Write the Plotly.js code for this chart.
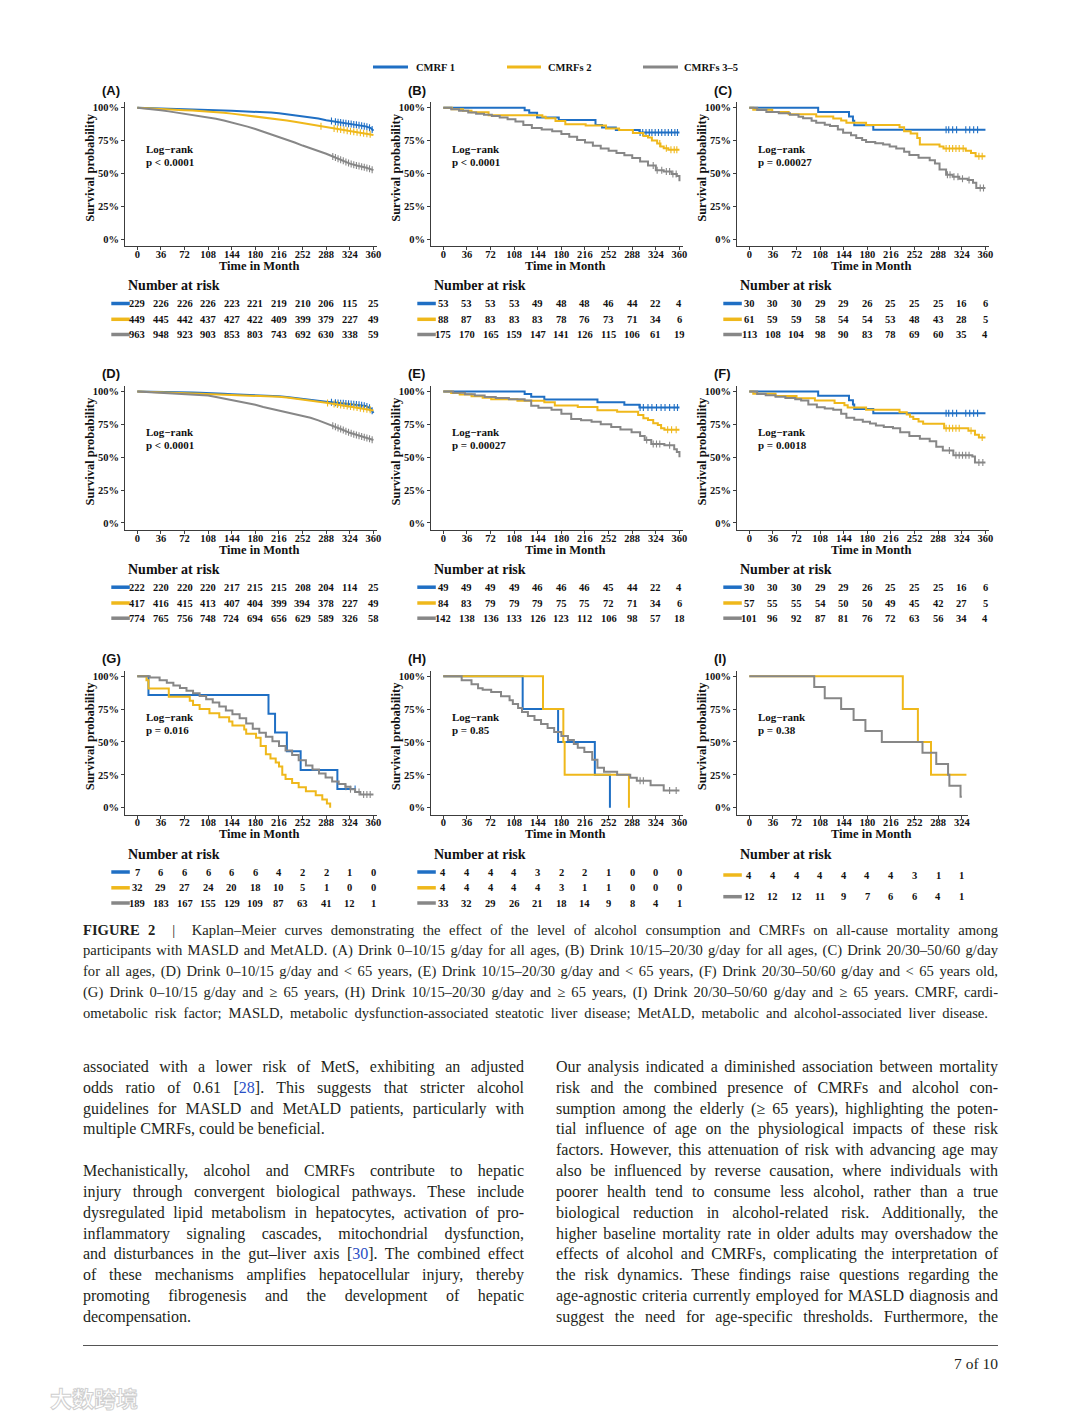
<!DOCTYPE html>
<html><head><meta charset="utf-8">
<script src="https://cdn.plot.ly/plotly-3.0.1.min.js"></script>
<style>
html,body{margin:0;padding:0;background:#fff;width:1080px;height:1419px;overflow:hidden;position:relative}
#chart{position:absolute;left:0;top:0;width:1080px;height:915px}
.txt{position:absolute;font-family:"Liberation Serif","Times New Roman",serif;color:#231f20}
.ln{white-space:nowrap;display:block}
.ln span.in{white-space:nowrap}
.ref{color:#2a4fc6}
</style></head><body>
<div id="chart"></div>
<div id="caption" class="txt" style="left:83px;top:919.5px;font-size:14.6px;line-height:20.8px"></div>
<div id="colL" class="txt" style="left:83px;top:1057px;font-size:16px;line-height:20.83px"></div>
<div id="colR" class="txt" style="left:556px;top:1057px;font-size:16px;line-height:20.83px"></div>
<div style="position:absolute;left:83px;top:1345px;width:915px;height:0;border-top:1.5px solid #555"></div>
<div class="txt" style="left:900px;width:98px;text-align:right;top:1354px;font-size:15.5px;line-height:20px">7 of 10</div>
<div style="position:absolute;left:50px;top:1382px;font-family:'Noto Sans CJK SC';font-size:22px;font-weight:bold;color:#fff;-webkit-text-stroke:1px #cfcfcf;line-height:30px">大数跨境</div>
<script>
// ---------------- DATA ----------------
const groups = ['CMRF 1','CMRFs 2','CMRFs 3–5'];
const months = [0,36,72,108,144,180,216,252,288,324,360];
const monthsI = [0,36,72,108,144,180,216,252,288,324];
const panelIds = ['A','B','C','D','E','F','G','H','I'];
const pValues = ['p < 0.0001','p < 0.0001','p = 0.00027','p < 0.0001','p = 0.00027','p = 0.0018','p = 0.016','p = 0.85','p = 0.38'];

const t12 = [0,12,24,36,48,60,72,84,96,108,120,132,144,156,168,180,192,204,216,228,240,252,264,276,288,300,312,324,336,348,360];
// Panel A
const A1_t = [0,12,24,36,48,60,72,84,96,108,120,132,144,156,168,180,192,204,216,228,240,252,264,276,288,300,312,324,336,348,356,360];
const A1_s = [1,0.997,0.995,0.993,0.991,0.99,0.989,0.988,0.987,0.986,0.983,0.979,0.976,0.974,0.972,0.97,0.967,0.963,0.957,0.95,0.943,0.936,0.928,0.917,0.905,0.895,0.885,0.877,0.868,0.858,0.845,0.825];
const A1_c = [296,302,306,310,314,318,322,326,330,334,338,342,346,350,354,358];
const A2_t = t12;
const A2_s = [1,0.996,0.993,0.99,0.987,0.984,0.981,0.978,0.975,0.972,0.968,0.962,0.955,0.948,0.941,0.935,0.929,0.922,0.913,0.903,0.893,0.883,0.872,0.862,0.852,0.842,0.832,0.822,0.812,0.803,0.793];
const A2_c = [280,300,305,310,315,320,325,330,335,340,345,350,355];
const A3_t = t12;
const A3_s = [1,0.995,0.988,0.98,0.972,0.963,0.955,0.947,0.938,0.928,0.916,0.902,0.888,0.873,0.856,0.838,0.818,0.797,0.775,0.757,0.735,0.712,0.692,0.671,0.65,0.625,0.6,0.575,0.558,0.545,0.525];
const A3_c = [298,302,306,310,314,318,322,326,330,334,338,342,346,350,354,358];
// Panel B
const B1_t = [0,124,131,143,176,232,242,263,299,360];
const B1_s = [1,0.981,0.962,0.925,0.906,0.868,0.849,0.83,0.811,0.811];
const B1_c = [300,304,309,314,318,323,328,333,338,343,348,353,357];
const B2_t = [0,13,30,43,69,151,156,171,186,217,248,268,289,305,312,318,326,331,336,343,360];
const B2_s = [1,0.989,0.977,0.966,0.943,0.932,0.92,0.898,0.875,0.864,0.841,0.83,0.807,0.784,0.773,0.75,0.727,0.704,0.692,0.68,0.68];
const B2_c = [330,340,347,352,356];
const B3_t = [0,12,24,38,50,62,74,86,98,110,122,135,150,166,180,192,204,216,228,240,252,264,276,288,300,312,324,336,348,356,360];
const B3_s = [1,0.989,0.977,0.963,0.954,0.946,0.937,0.926,0.912,0.895,0.868,0.846,0.834,0.82,0.8,0.78,0.755,0.735,0.71,0.69,0.672,0.655,0.638,0.618,0.59,0.56,0.525,0.515,0.495,0.48,0.44];
const B3_c = [320,326,333,340,345,350,355];
// Panel C
const C1_t = [0,105,152,158,160,189,360];
const C1_s = [1,0.967,0.933,0.9,0.867,0.833,0.833];
const C1_c = [300,304,310,316,330,336,342,348];
const C2_t = [0,6,35,60,102,128,140,148,178,229,236,246,256,260,290,296,330,338,345,360];
const C2_s = [1,0.984,0.967,0.951,0.934,0.918,0.902,0.885,0.869,0.852,0.82,0.803,0.77,0.72,0.705,0.69,0.672,0.655,0.63,0.63];
const C2_c = [300,305,310,315,320,326,350,355];
const C3_t = [0,12,26,45,62,75,82,95,102,115,123,135,143,155,163,172,178,192,204,214,224,236,244,258,275,283,290,300,310,320,333,341,346,360];
const C3_s = [1,0.982,0.967,0.957,0.947,0.932,0.92,0.9,0.885,0.87,0.86,0.835,0.81,0.79,0.77,0.755,0.74,0.73,0.72,0.705,0.69,0.665,0.64,0.62,0.6,0.575,0.53,0.49,0.475,0.46,0.45,0.43,0.39,0.39];
const C3_c = [302,306,312,318,325,335,352,357];
// Panel D
const D1_t = [0,12,24,36,48,60,72,84,96,108,120,132,144,156,168,180,192,204,216,228,240,252,264,276,288,300,312,324,336,348,356,360];
const D1_s = [1,0.998,0.996,0.995,0.994,0.993,0.992,0.991,0.99,0.989,0.986,0.982,0.979,0.977,0.975,0.973,0.97,0.967,0.963,0.957,0.951,0.944,0.937,0.93,0.922,0.915,0.91,0.905,0.9,0.89,0.87,0.835];
const D1_c = [296,302,306,310,314,318,322,326,330,334,338,342,346,350,354,358];
const D2_t = t12;
const D2_s = [1,0.997,0.994,0.992,0.99,0.988,0.986,0.984,0.982,0.98,0.978,0.976,0.974,0.972,0.97,0.968,0.966,0.963,0.959,0.953,0.946,0.939,0.932,0.923,0.914,0.905,0.896,0.886,0.876,0.866,0.855];
const D2_c = [290,300,305,310,315,320,325,330,335,340,345,350,355];
const D3_t = t12;
const D3_s = [1,0.997,0.994,0.991,0.988,0.985,0.982,0.978,0.973,0.968,0.958,0.947,0.936,0.924,0.912,0.898,0.882,0.868,0.855,0.843,0.83,0.815,0.8,0.78,0.758,0.735,0.71,0.685,0.665,0.648,0.63];
const D3_c = [298,302,306,310,314,318,322,326,330,334,338,342,346,350,354,358];
// Panel E
const E1_t = [0,124,134,154,235,276,299,360];
const E1_s = [1,0.98,0.959,0.939,0.918,0.898,0.878,0.878];
const E1_c = [300,305,312,318,325,332,338,345,352,357];
const E2_t = [0,12,25,43,60,73,113,154,170,205,235,265,297,305,312,320,327,332,337,360];
const E2_s = [1,0.988,0.976,0.964,0.952,0.94,0.929,0.917,0.893,0.881,0.857,0.845,0.82,0.795,0.783,0.758,0.745,0.72,0.708,0.708];
const E2_c = [342,348,355];
const E3_t = [0,15,33,48,63,80,100,124,134,145,165,180,195,210,226,240,256,270,287,300,307,317,337,352,356,360];
const E3_s = [1,0.99,0.979,0.968,0.958,0.95,0.94,0.93,0.89,0.875,0.86,0.83,0.79,0.78,0.77,0.75,0.73,0.71,0.69,0.66,0.63,0.6,0.59,0.56,0.54,0.5];
const E3_c = [310,320,325,330,345];
// Panel F
const F1_t = [0,105,152,158,160,189,360];
const F1_s = [1,0.967,0.933,0.9,0.867,0.833,0.833];
const F1_c = [300,304,310,316,330,336,342,348];
const F2_t = [0,6,40,72,100,130,145,150,178,229,240,245,250,258,265,297,334,344,350,360];
const F2_s = [1,0.982,0.965,0.947,0.93,0.912,0.895,0.877,0.86,0.842,0.825,0.807,0.79,0.772,0.754,0.72,0.7,0.67,0.65,0.65];
const F2_c = [300,305,310,315,320,338,355];
const F3_t = [0,12,25,40,55,70,79,90,103,115,128,140,148,160,173,184,193,205,219,230,244,260,275,285,295,311,340,344,360];
const F3_s = [1,0.98,0.97,0.96,0.95,0.94,0.93,0.9,0.88,0.87,0.86,0.83,0.8,0.785,0.77,0.755,0.74,0.73,0.72,0.69,0.66,0.64,0.62,0.58,0.55,0.515,0.505,0.46,0.46];
const F3_c = [305,315,320,325,330,335,350,356];
// Panel G
const G1_t = [0,17,200,210,228,249,305,332];
const G1_s = [1,0.857,0.714,0.571,0.429,0.286,0.143,0.143];
const G1_c = [332];
const G2_t = [0,14,17,48,80,85,95,110,125,140,145,163,166,181,188,196,203,211,216,221,226,236,246,257,272,282,289,294];
const G2_s = [1,0.969,0.906,0.844,0.813,0.781,0.75,0.719,0.688,0.656,0.625,0.594,0.563,0.531,0.469,0.406,0.375,0.344,0.313,0.25,0.219,0.188,0.156,0.125,0.094,0.063,0.031,0.0];
const G2_c = [];
const G3_t = [0,19,34,45,55,65,75,85,95,105,115,125,135,145,156,166,176,186,196,206,216,226,236,246,257,267,277,287,297,307,317,325,332,340,360];
const G3_s = [1,0.99,0.97,0.95,0.93,0.91,0.89,0.87,0.85,0.825,0.8,0.77,0.74,0.71,0.68,0.64,0.6,0.57,0.54,0.505,0.47,0.435,0.4,0.36,0.32,0.29,0.26,0.23,0.2,0.18,0.16,0.14,0.12,0.1,0.1];
const G3_c = [318,325,338,345,350,355];
// Panel H
const H1_t = [0,121,175,231,254];
const H1_s = [1,0.75,0.5,0.25,0];
const H1_c = [];
const H2_t = [0,152,183,185,283];
const H2_s = [1,0.75,0.5,0.25,0];
const H2_c = [];
const H3_t = [0,28,43,53,60,73,88,101,106,114,120,129,139,149,159,169,180,190,199,205,215,227,235,245,265,285,295,316,336,360];
const H3_s = [1,0.97,0.939,0.909,0.897,0.879,0.848,0.818,0.788,0.758,0.727,0.697,0.667,0.636,0.606,0.576,0.545,0.515,0.485,0.455,0.424,0.364,0.303,0.273,0.25,0.227,0.205,0.17,0.13,0.13];
const H3_c = [300,305,345,355];
// Panel I (no CMRF 1 group)
const I2_t = [0,234,257,277,331];
const I2_s = [1,0.75,0.5,0.25,0.25];
const I2_c = [];
const I3_t = [0,99,115,140,159,177,202,264,285,303,305,322,324];
const I3_s = [1,0.917,0.833,0.75,0.667,0.583,0.5,0.417,0.333,0.25,0.167,0.083,0.083];
const I3_c = [];

// Numbers at risk
const riskA = [[229,226,226,226,223,221,219,210,206,115,25],[449,445,442,437,427,422,409,399,379,227,49],[963,948,923,903,853,803,743,692,630,338,59]];
const riskB = [[53,53,53,53,49,48,48,46,44,22,4],[88,87,83,83,83,78,76,73,71,34,6],[175,170,165,159,147,141,126,115,106,61,19]];
const riskC = [[30,30,30,29,29,26,25,25,25,16,6],[61,59,59,58,54,54,53,48,43,28,5],[113,108,104,98,90,83,78,69,60,35,4]];
const riskD = [[222,220,220,220,217,215,215,208,204,114,25],[417,416,415,413,407,404,399,394,378,227,49],[774,765,756,748,724,694,656,629,589,326,58]];
const riskE = [[49,49,49,49,46,46,46,45,44,22,4],[84,83,79,79,79,75,75,72,71,34,6],[142,138,136,133,126,123,112,106,98,57,18]];
const riskF = [[30,30,30,29,29,26,25,25,25,16,6],[57,55,55,54,50,50,49,45,42,27,5],[101,96,92,87,81,76,72,63,56,34,4]];
const riskG = [[7,6,6,6,6,6,4,2,2,1,0],[32,29,27,24,20,18,10,5,1,0,0],[189,183,167,155,129,109,87,63,41,12,1]];
const riskH = [[4,4,4,4,3,2,2,1,0,0,0],[4,4,4,4,4,3,1,1,0,0,0],[33,32,29,26,21,18,14,9,8,4,1]];
const riskI = [[4,4,4,4,4,4,4,3,1,1],[12,12,12,11,9,7,6,6,4,1]];

// ---------------- STYLE / LAYOUT ----------------
const colors = ['#1f6fc4','#efb81b','#878787'];
const W = 1080, H = 915;
const colX0 = [137.3, 443.3, 749.3];
const rowOff = [0, 283.7, 568.5];
const PXM = 0.656, Y0 = 239.2, YS = 131.5;
const XMIN = -18.3, YMIN = -0.053, YMAX = 1.04;
const SERIF = 'Liberation Serif, Times New Roman, serif';
const SANS = 'Liberation Sans, Arial, sans-serif';
const px = v => v / W, py = v => 1 - v / H;

const panels = [
  {curves:[[A1_t,A1_s,A1_c],[A2_t,A2_s,A2_c],[A3_t,A3_s,A3_c]], g:[0,1,2], risk:riskA, shape:'linear'},
  {curves:[[B1_t,B1_s,B1_c],[B2_t,B2_s,B2_c],[B3_t,B3_s,B3_c]], g:[0,1,2], risk:riskB, shape:'hv'},
  {curves:[[C1_t,C1_s,C1_c],[C2_t,C2_s,C2_c],[C3_t,C3_s,C3_c]], g:[0,1,2], risk:riskC, shape:'hv'},
  {curves:[[D1_t,D1_s,D1_c],[D2_t,D2_s,D2_c],[D3_t,D3_s,D3_c]], g:[0,1,2], risk:riskD, shape:'linear'},
  {curves:[[E1_t,E1_s,E1_c],[E2_t,E2_s,E2_c],[E3_t,E3_s,E3_c]], g:[0,1,2], risk:riskE, shape:'hv'},
  {curves:[[F1_t,F1_s,F1_c],[F2_t,F2_s,F2_c],[F3_t,F3_s,F3_c]], g:[0,1,2], risk:riskF, shape:'hv'},
  {curves:[[G1_t,G1_s,G1_c],[G2_t,G2_s,G2_c],[G3_t,G3_s,G3_c]], g:[0,1,2], risk:riskG, shape:'hv'},
  {curves:[[H1_t,H1_s,H1_c],[H2_t,H2_s,H2_c],[H3_t,H3_s,H3_c]], g:[0,1,2], risk:riskH, shape:'hv'},
  {curves:[[I2_t,I2_s,I2_c],[I3_t,I3_s,I3_c]], g:[1,2], risk:riskI, shape:'hv'}
];

function yAt(t, s, x, shape){
  let i = 0;
  while (i < t.length - 1 && t[i+1] <= x) i++;
  if (shape === 'linear' && i < t.length - 1) {
    return s[i] + (s[i+1]-s[i]) * (x - t[i]) / (t[i+1]-t[i]);
  }
  return s[i];
}

const traces = [], annotations = [], shapes = [];
const layout = {
  width: W, height: H, margin:{l:0,r:0,t:0,b:0}, paper_bgcolor:'#fff', plot_bgcolor:'rgba(0,0,0,0)',
  showlegend:false, font:{family:SERIF, color:'#111'}, annotations, shapes
};
const B = s => '<b>' + s + '</b>';

panels.forEach((P, i) => {
  const k = i + 1, r = Math.floor(i/3), c = i % 3, x0 = colX0[c], ro = rowOff[r];
  const xa = k === 1 ? 'x' : 'x' + k, ya = k === 1 ? 'y' : 'y' + k;
  const isI = panelIds[i] === 'I';
  const ticks = isI ? monthsI : months;
  const xmax = isI ? 333 : 365;
  const axLine = {showline:true, linecolor:'#3c3c3c', linewidth:1.2, ticks:'outside', ticklen:3, tickwidth:1,
                  tickcolor:'#3c3c3c', showgrid:false, zeroline:false, fixedrange:true,
                  tickfont:{family:SERIF, size:10.5, color:'#111'}};
  layout[k === 1 ? 'xaxis' : 'xaxis' + k] = Object.assign({}, axLine, {
    domain:[px(x0 + XMIN*PXM), px(x0 + xmax*PXM)], range:[XMIN, xmax], anchor:ya,
    tickmode:'array', tickvals:ticks, ticktext:ticks.map(v => B(v)), ticklabelstandoff:-5
  });
  layout[k === 1 ? 'yaxis' : 'yaxis' + k] = Object.assign({}, axLine, {
    domain:[py(Y0 + ro - YMIN*YS), py(Y0 + ro - YMAX*YS)], range:[YMIN, YMAX], anchor:xa,
    tickmode:'array', tickvals:[0,0.25,0.5,0.75,1], ticktext:['0%','25%','50%','75%','100%'].map(B)
  });

  P.curves.forEach((cv, j) => {
    const gi = P.g[j];
    const [t, s, cz] = cv;
    traces.push({x:t, y:s, xaxis:xa, yaxis:ya, mode:'lines', name:groups[gi],
      line:{color:colors[gi], width:2, shape:P.shape}, hoverinfo:'skip'});
    if (cz.length) {
      traces.push({x:cz, y:cz.map(v => yAt(t, s, v, P.shape)), xaxis:xa, yaxis:ya, mode:'markers', name:groups[gi],
        marker:{symbol:'line-ns-open', size:5, color:colors[gi], line:{width:1.1, color:colors[gi]}}, hoverinfo:'skip'});
    }
  });

  annotations.push({xref:'paper', yref:'paper', x:px(x0 - 37.5), y:py(90 + ro), xanchor:'left', yanchor:'middle',
    text:B('(' + panelIds[i] + ')'), showarrow:false, font:{family:SANS, size:13, color:'#111'}});
  annotations.push({xref:'paper', yref:'paper', x:px(x0 + 7), y:py(148.7 + ro), xanchor:'left', yanchor:'middle',
    text:B('Log−rank'), showarrow:false, font:{family:SERIF, size:11, color:'#111'}});
  annotations.push({xref:'paper', yref:'paper', x:px(x0 + 7), y:py(161.7 + ro), xanchor:'left', yanchor:'middle',
    text:B(pValues[i].replace('<','&lt;')), showarrow:false, font:{family:SERIF, size:11, color:'#111'}});
  annotations.push({xref:'paper', yref:'paper', x:px(x0 + 121.5), y:py(265.9 + ro), xanchor:'center', yanchor:'middle',
    text:B('Time in Month'), showarrow:false, font:{family:SERIF, size:12.5, color:'#111'}});
  annotations.push({xref:'paper', yref:'paper', x:px(x0 - 47.5), y:py(167 + ro), xanchor:'center', yanchor:'middle',
    text:B('Survival probability'), textangle:-90, showarrow:false, font:{family:SERIF, size:12.5, color:'#111'}});

  annotations.push({xref:'paper', yref:'paper', x:px(x0 - 11), y:py(285.7 + ro), xanchor:'left', yanchor:'middle',
    text:B('Number at risk'), showarrow:false, font:{family:SERIF, size:14, color:'#111'}});
  const rowsPy = isI ? [875, 896.7].map(v => v - 568.5 + ro) : [303.5, 319.3, 334.5].map(v => v + ro);
  P.risk.forEach((row, j) => {
    const gi = P.g[j];
    const yy = rowsPy[j];
    shapes.push({type:'line', xref:'paper', yref:'paper', x0:px(x0 - 26), x1:px(x0 - 7.5), y0:py(yy), y1:py(yy),
      line:{color:colors[gi], width:3.5}});
    row.forEach((n, m) => {
      annotations.push({xref:xa, yref:'paper', x:ticks[m], y:py(yy), xanchor:'center', yanchor:'middle',
        text:B(n), showarrow:false, font:{family:SERIF, size:10.5, color:'#111'}});
    });
  });
});

// top legend
const legX = [[373,408,414],[507,541,546],[643,678,682]];
groups.forEach((g, gi) => {
  shapes.push({type:'line', xref:'paper', yref:'paper', x0:px(legX[gi][0]), x1:px(legX[gi][1]), y0:py(67), y1:py(67),
    line:{color:colors[gi], width:3}});
  annotations.push({xref:'paper', yref:'paper', x:px(legX[gi][2]), y:py(67), xanchor:'left', yanchor:'middle',
    text:B(g), showarrow:false, font:{family:SERIF, size:10.5, color:'#111'}});
});

Plotly.newPlot('chart', traces, layout, {staticPlot:true, displayModeBar:false});

// ---------------- TEXT ----------------
const captionLines = [
  ['<b>FIGURE 2</b>\u00a0 | \u00a0Kaplan–Meier curves demonstrating the effect of the level of alcohol consumption and CMRFs on all-cause mortality among', 915],
  ['participants with MASLD and MetALD. (A) Drink 0–10/15 g/day for all ages, (B) Drink 10/15–20/30 g/day for all ages, (C) Drink 20/30–50/60 g/day', 915],
  ['for all ages, (D) Drink 0–10/15 g/day and &lt; 65 years, (E) Drink 10/15–20/30 g/day and &lt; 65 years, (F) Drink 20/30–50/60 g/day and &lt; 65 years old,', 915],
  ['(G) Drink 0–10/15 g/day and ≥ 65 years, (H) Drink 10/15–20/30 g/day and ≥ 65 years, (I) Drink 20/30–50/60 g/day and ≥ 65 years. CMRF, cardi-', 915],
  ['ometabolic risk factor; MASLD, metabolic dysfunction-associated steatotic liver disease; MetALD, metabolic and alcohol-associated liver disease.', 905]
];
const leftLines = [
  ['associated with a lower risk of MetS, exhibiting an adjusted', 441],
  ['odds ratio of 0.61 [<span class="ref">28</span>]. This suggests that stricter alcohol', 441],
  ['guidelines for MASLD and MetALD patients, particularly with', 441],
  ['multiple CMRFs, could be beneficial.', 0],
  ['', 0],
  ['Mechanistically, alcohol and CMRFs contribute to hepatic', 441],
  ['injury through convergent biological pathways. These include', 441],
  ['dysregulated lipid metabolism in hepatocytes, activation of pro-', 441],
  ['inflammatory signaling cascades, mitochondrial dysfunction,', 441],
  ['and disturbances in the gut–liver axis [<span class="ref">30</span>]. The combined effect', 441],
  ['of these mechanisms amplifies hepatocellular injury, thereby', 441],
  ['promoting fibrogenesis and the development of hepatic', 441],
  ['decompensation.', 0]
];
const rightLines = [
  ['Our analysis indicated a diminished association between mortality', 442],
  ['risk and the combined presence of CMRFs and alcohol con-', 442],
  ['sumption among the elderly (≥ 65 years), highlighting the poten-', 442],
  ['tial influence of age on the physiological impacts of these risk', 442],
  ['factors. However, this attenuation of risk with advancing age may', 442],
  ['also be influenced by reverse causation, where individuals with', 442],
  ['poorer health tend to consume less alcohol, rather than a true', 442],
  ['biological reduction in alcohol-related risk. Additionally, the', 442],
  ['higher baseline mortality rate in older adults may overshadow the', 442],
  ['effects of alcohol and CMRFs, complicating the interpretation of', 442],
  ['the risk dynamics. These findings raise questions regarding the', 442],
  ['age-agnostic criteria currently employed for MASLD diagnosis and', 442],
  ['suggest the need for age-specific thresholds. Furthermore, the', 442]
];
function fill(id, lines){
  const host = document.getElementById(id);
  lines.forEach(([h, w]) => {
    const d = document.createElement('div');
    d.className = 'ln';
    d.style.height = host.style.lineHeight;
    d.innerHTML = '<span class="in">' + h + '</span>';
    d.dataset.w = w;
    host.appendChild(d);
  });
}
fill('caption', captionLines);
fill('colL', leftLines);
fill('colR', rightLines);
function justify(){
  document.querySelectorAll('.ln').forEach(d => {
    const sp = d.firstChild;
    if (!sp) return;
    sp.style.wordSpacing = '0px';
    const target = parseFloat(d.dataset.w);
    if (!target) return;
    const w = sp.getBoundingClientRect().width;
    const n = (sp.textContent.match(/[ \u00a0]/g) || []).length;
    if (n > 0) sp.style.wordSpacing = ((target - w) / n) + 'px';
  });
}
justify();
if (document.fonts && document.fonts.ready) document.fonts.ready.then(justify);
</script>
</body></html>
